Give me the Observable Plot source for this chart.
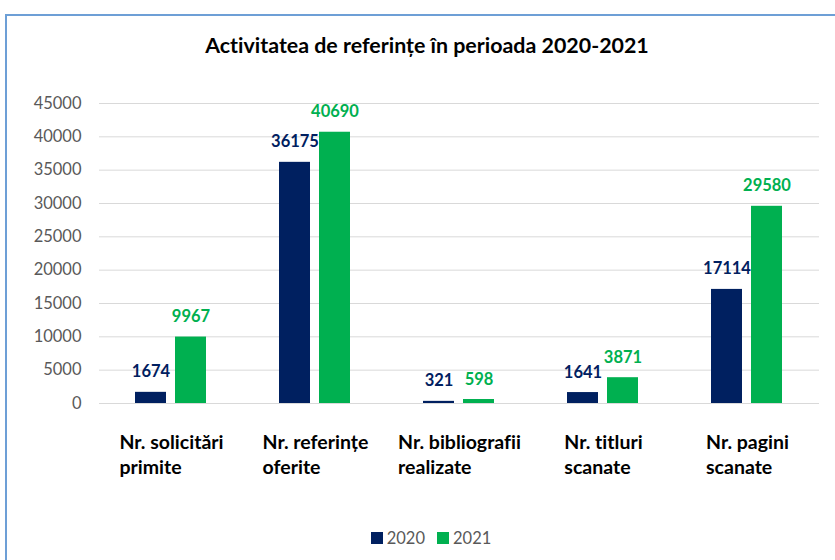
<!DOCTYPE html>
<html>
<head>
<meta charset="utf-8">
<script src="https://cdn.jsdelivr.net/npm/d3@7"></script>
<script src="https://cdn.jsdelivr.net/npm/@observablehq/plot@0.6"></script>
<style>
  html, body { margin: 0; padding: 0; background: #fff; overflow: hidden; width: 835px; height: 560px; }
  body { position: relative; font-family: Lato, "Noto Sans", sans-serif; font-variant-ligatures: none; }
  svg, text, tspan { font-variant-ligatures: none; font-feature-settings: "liga" 0, "clig" 0; }
  #frame { position: absolute; left: 5px; top: 14px; width: 900px; height: 700px; border: 2px solid #6d9fd6; box-sizing: border-box; }
  #title { position: absolute; left: 0; top: 32px; width: 854px; text-align: center; font-weight: bold; font-size: 21.4px; color: #000; }
  #chart { position: absolute; left: 0; top: 90px; }
  #legend { position: absolute; left: 0; top: 528px; width: 862px; text-align: center; font-size: 16.5px; color: #595959; }
  #legend span.item { display: inline-flex; align-items: center; margin: 0 6px; }
  #legend span.sw { display: inline-block; width: 12px; height: 12px; margin-right: 4px; }
</style>
</head>
<body>
<div id="frame"></div>
<div id="title">Activitatea de referințe în perioada 2020-2021</div>
<div id="chart"></div>
<div id="legend"></div>
<script>
const categories = [
  "Nr. solicitări\nprimite",
  "Nr. referințe\noferite",
  "Nr. bibliografii\nrealizate",
  "Nr. titluri\nscanate",
  "Nr. pagini\nscanate"
];
const years = ["2020", "2021"];
const values2020 = [1674, 36175, 321, 1641, 17114];
const values2021 = [9967, 40690, 598, 3871, 29580];
const yTicks = [0, 5000, 10000, 15000, 20000, 25000, 30000, 35000, 40000, 45000];
const colors = ["#002060", "#00B050"];

const data = [];
categories.forEach((c, i) => {
  data.push({category: c, year: years[0], value: values2020[i]});
  data.push({category: c, year: years[1], value: values2021[i]});
});

const chart = Plot.plot({
  width: 835,
  height: 403,
  marginTop: 13,
  marginBottom: 90,
  marginLeft: 98,
  marginRight: 15,
  style: {fontFamily: "Lato, 'Noto Sans', sans-serif", background: "transparent", fontVariantLigatures: "none"},
  fx: {domain: categories, padding: 0, label: null},
  x: {domain: years, paddingInner: 0.22, paddingOuter: 0.87, axis: null},
  y: {domain: [0, 45000], label: null},
  color: {domain: years, range: colors},
  marks: [
    Plot.gridY(yTicks, {stroke: "#d9d9d9", strokeOpacity: 1, strokeWidth: 1}),
    Plot.axisY(yTicks, {tickSize: 0, tickPadding: 18, fontSize: 16.5, color: "#595959", tickFormat: d => String(d), label: null}),
    Plot.axisFx({anchor: "bottom", tickSize: 0, tickPadding: 28, fontSize: 19.5, fontWeight: "bold", fill: "#000", lineHeight: 1.27, textAnchor: "start", label: null}),
    Plot.barY(data, {fx: "category", x: "year", y: "value", fill: "year"}),
    Plot.text(data, {fx: "category", x: "year", y: "value", text: d => String(d.value), fill: "year", dy: -15, lineAnchor: "bottom", fontWeight: "bold", fontSize: 16.5})
  ]
});
document.getElementById("chart").appendChild(chart);

// center each multi-line category label block, lines left-aligned
chart.querySelectorAll('g[aria-label="fx-axis tick label"] text').forEach(t => {
  const w = t.getBBox().width;
  t.querySelectorAll("tspan").forEach(s => s.setAttribute("x", -w / 2));
});

const legend = document.getElementById("legend");
years.forEach((y, i) => {
  const item = document.createElement("span");
  item.className = "item";
  const sw = document.createElement("span");
  sw.className = "sw";
  sw.style.background = colors[i];
  item.appendChild(sw);
  item.appendChild(document.createTextNode(y));
  legend.appendChild(item);
});
</script>
</body>
</html>
